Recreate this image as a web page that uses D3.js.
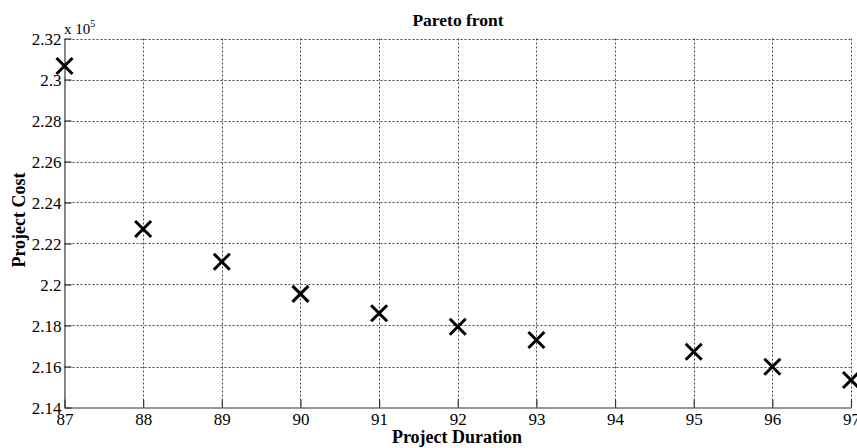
<!DOCTYPE html>
<html lang="en">
<head>
    <meta charset="UTF-8">
    <script src="https://d3js.org/d3.v7.min.js"></script>
    <title>Pareto front</title>
    <style>
        body { margin: 0; background: #fff; }
        text { font-family: "Liberation Serif", "Times New Roman", serif; fill: #000; }
    </style>
</head>
<body>
<svg width="857" height="448" id="chart"></svg>
<script>
    // data
    const durations = [87, 88, 89, 90, 91, 92, 93, 95, 96, 97];
    const costs = [230660, 222710, 221110, 219540, 218600, 217940, 217290, 216720, 215990, 215340];
    const xTicks = [87, 88, 89, 90, 91, 92, 93, 94, 95, 96, 97];
    const yTicks = [2.14, 2.16, 2.18, 2.2, 2.22, 2.24, 2.26, 2.28, 2.3, 2.32];

    const svg = d3.select("#chart");
    const plotLeft = 64.5, plotRight = 851, plotTop = 38.5, plotBottom = 407.5;

    const x = d3.scaleLinear().domain([87, 97]).range([plotLeft, plotRight]);
    const y = d3.scaleLinear().domain([214000, 232000]).range([plotBottom, plotTop]);

    // grid lines
    const grid = svg.append("g")
        .attr("stroke", "#444")
        .attr("stroke-width", 1)
        .attr("stroke-dasharray", "2,2");
    grid.selectAll(".gx").data(xTicks.slice(1)).enter().append("line")
        .attr("x1", d => Math.round(x(d)) + 0.5).attr("x2", d => Math.round(x(d)) + 0.5)
        .attr("y1", plotTop).attr("y2", plotBottom);
    grid.selectAll(".gy").data(yTicks.slice(1)).enter().append("line")
        .attr("x1", plotLeft).attr("x2", plotRight)
        .attr("y1", d => Math.round(y(d * 1e5)) + 0.5).attr("y2", d => Math.round(y(d * 1e5)) + 0.5);

    // axes, ticks pointing inward like matlab
    const xAxis = d3.axisBottom(x).tickValues(xTicks).tickSize(-8).tickSizeOuter(0)
        .tickPadding(5).tickFormat(d3.format("d"));
    const gx = svg.append("g").attr("transform", `translate(0,${plotBottom})`).call(xAxis);

    const yAxis = d3.axisLeft(y).tickValues(yTicks.map(t => t * 1e5)).tickSize(-7).tickSizeOuter(0)
        .tickPadding(3).tickFormat(d => String(+(d / 1e5).toFixed(2)));
    const gy = svg.append("g").attr("transform", `translate(${plotLeft},0)`).call(yAxis);

    [gx, gy].forEach(g => {
        g.selectAll("path, line").attr("stroke", "#333").attr("stroke-width", 1.2);
        g.selectAll("text").style("font-size", "17px").attr("fill", "#000");
    });
    gy.selectAll("text").attr("dy", "0.37em");

    // markers
    const s = 8;
    const marks = svg.append("g").attr("stroke", "#000").attr("stroke-width", 3);
    durations.forEach((d, i) => {
        const cx = x(d), cy = y(costs[i]);
        marks.append("path")
            .attr("d", `M${cx - s},${cy - s}L${cx + s},${cy + s}M${cx - s},${cy + s}L${cx + s},${cy - s}`);
    });

    // titles
    svg.append("text").attr("x", 458).attr("y", 26).attr("text-anchor", "middle")
        .style("font-size", "17.5px").style("font-weight", "bold").text("Pareto front");
    svg.append("text").attr("x", 457).attr("y", 443).attr("text-anchor", "middle")
        .style("font-size", "18px").style("font-weight", "bold").text("Project Duration");
    svg.append("text").attr("transform", "translate(25,220) rotate(-90)").attr("text-anchor", "middle")
        .style("font-size", "18px").style("font-weight", "bold").text("Project Cost");

    // exponent label
    const ex = svg.append("text").attr("x", 64).attr("y", 34).style("font-size", "15px");
    ex.append("tspan").text("x 10");
    ex.append("tspan").attr("dy", -7).style("font-size", "10px").text("5");
</script>
</body>
</html>
